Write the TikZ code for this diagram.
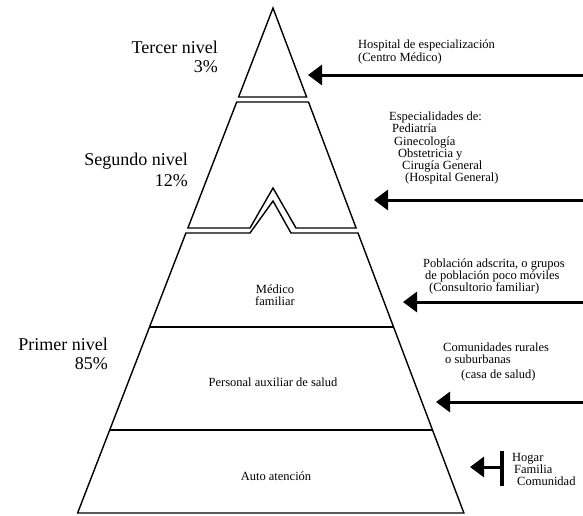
\documentclass[tikz,border=0pt]{standalone}
\usepackage{fontspec}
\setmainfont{Liberation Serif}
\usetikzlibrary{arrows.meta}
\begin{document}
\begin{tikzpicture}[x=1pt,y=-1pt,
  pyr/.style={line width=1.4pt,line join=miter},
  bigarrow/.style={line width=3pt,-{Triangle[length=14pt,width=20pt]}},
  lvl/.style={font=\fontsize{18}{20}\selectfont,inner sep=0pt},
  note/.style={font=\fontsize{12.5}{13}\selectfont,inner sep=0pt},
  ctr/.style={font=\fontsize{12.5}{13}\selectfont,inner sep=0pt,anchor=base}]
\useasboundingbox (0,0) rectangle (583,515);
% pyramid geometry: left x = 273-0.387(y-8), right x = 273+0.378(y-8)
\coordinate (apex) at (273,8);
% top triangle
\draw[pyr] (apex) -- (238.6,97) -- (306.6,97) -- cycle;
% second level
\draw[pyr] (236.7,102) -- (308.5,102) -- (356.1,228) -- (296,228) -- (273,188)
  -- (250,228) -- (187.9,228) -- cycle;
% first level
\draw[pyr] (250,233) -- (185.9,233) -- (77.6,513) -- (463.9,513) -- (358,233)
  -- (291,233) -- (273,201) -- cycle;
\draw[pyr] (149.4,327) -- (393.6,327);
\draw[pyr] (109.6,430) -- (432.5,430);
% level labels
\node[lvl,anchor=base east] (t1) at (218,53) {Tercer nivel};
\node[lvl,anchor=base east] (t2) at (218,72) {3\%};
\node[lvl,anchor=base east] (s1) at (188,165) {Segundo nivel};
\node[lvl,anchor=base east] (s2) at (188,186) {12\%};
\node[lvl,anchor=base east] (p1) at (108,350) {Primer nivel};
\node[lvl,anchor=base east] (p2) at (108,369) {85\%};
% centre labels
\node[ctr] (m1) at (275,293) {Médico};
\node[ctr] (m2) at (275,305) {familiar};
\node[ctr] (pa) at (273,386) {Personal auxiliar de salud};
\node[ctr] (aa) at (276,480) {Auto atención};
% right notes
\node[note,anchor=base west] (h1) at (358,48) {Hospital de especialización};
\node[note,anchor=base west] (h2) at (358,61) {(Centro Médico)};
\node[note,anchor=base west] (e1) at (389,120) {Especialidades de:};
\node[note,anchor=base west] (e2) at (392,132) {Pediatría};
\node[note,anchor=base west] (e3) at (394,145) {Ginecología};
\node[note,anchor=base west] (e4) at (398,157) {Obstetricia y};
\node[note,anchor=base west] (e5) at (402,169) {Cirugía General};
\node[note,anchor=base west] (e6) at (405,181) {(Hospital General)};
\node[note,anchor=base west] (c1) at (423,267) {Población adscrita, o grupos};
\node[note,anchor=base west] (c2) at (425,279) {de población poco móviles};
\node[note,anchor=base west] (c3) at (429,291) {(Consultorio familiar)};
\node[note,anchor=base west] (r1) at (443,351) {Comunidades rurales};
\node[note,anchor=base west] (r2) at (445,363) {o suburbanas};
\node[note,anchor=base west] (r3) at (461,378) {(casa de salud)};
\node[note,anchor=base west] (f1) at (512,461) {Hogar};
\node[note,anchor=base west] (f2) at (514,473) {Familia};
\node[note,anchor=base west] (f3) at (517,485) {Comunidad};
% arrows
\coordinate (a1s) at (583,75);  \coordinate (a1e) at (308,75);
\coordinate (a2s) at (583,200); \coordinate (a2e) at (374,200);
\coordinate (a3s) at (583,302); \coordinate (a3e) at (403,302);
\coordinate (a4s) at (583,402); \coordinate (a4e) at (436,402);
\coordinate (a5s) at (502,467); \coordinate (a5e) at (470,467);
\coordinate (b5t) at (502,451); \coordinate (b5b) at (502,486);
\draw[bigarrow] (a1s) -- (a1e);
\draw[bigarrow] (a2s) -- (a2e);
\draw[bigarrow] (a3s) -- (a3e);
\draw[bigarrow] (a4s) -- (a4e);
\draw[bigarrow] (a5s) -- (a5e);
\draw[line width=4pt] (b5t) -- (b5b);
\end{tikzpicture}
\end{document}
